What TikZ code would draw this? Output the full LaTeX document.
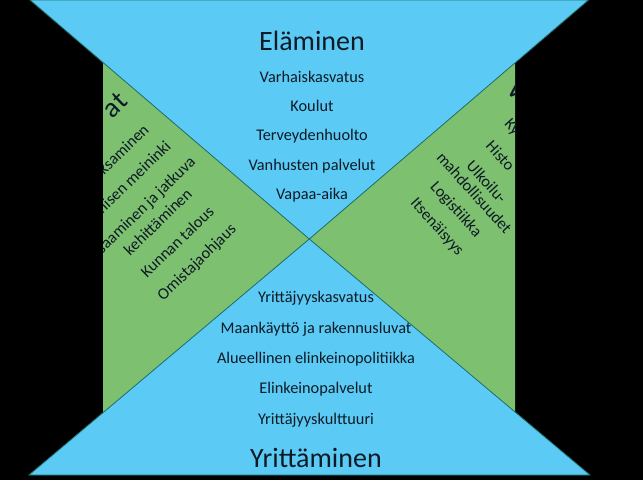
\documentclass[tikz,border=0pt]{standalone}
\usepackage{fontspec}
\setmainfont{Carlito}
\definecolor{skyfill}{HTML}{5BCBF5}
\definecolor{leaffill}{HTML}{7DC070}
\definecolor{edgeteal}{HTML}{1F6E68}
\definecolor{inktext}{HTML}{0E1A26}
\newcommand{\headfont}{\fontsize{28}{32}\selectfont}
\newcommand{\listfont}{\fontsize{16.3}{19}\selectfont}

\begin{document}
\begin{tikzpicture}[x=1pt,y=-1pt,
  tri/.style={draw=edgeteal,line width=0.8pt,fill=skyfill},
  head/.style={font=\headfont,text=inktext,inner sep=0pt},
  lbl/.style={font=\listfont,text=inktext,inner sep=0pt}]
  \fill[black] (0,0) rectangle (643,480);
  \useasboundingbox (0,0) rectangle (643,480);
  % green wedges
  \fill[leaffill] (103,62.5) -- (309.3,239) -- (103,412.7) -- cycle;
  \fill[leaffill] (515,62.9) -- (309.3,239) -- (515,412.7) -- cycle;
  % blue triangles
  \filldraw[tri] (30,0) -- (588.5,0) -- (309.3,239) -- cycle;
  \filldraw[tri] (29,475) -- (590,475) -- (309.3,239) -- cycle;
  % top list
  \node[head,anchor=base] (elam) at (312,50) {Eläminen};
  \foreach \t [count=\i] in {Varhaiskasvatus,Koulut,Terveydenhuolto,
      Vanhusten palvelut,Vapaa-aika}
    \node[lbl,anchor=base] (top\i) at (312,{82.3+29.3*(\i-1)}) {\t};
  % bottom list
  \foreach \t [count=\i] in {Yrittäjyyskasvatus,Maankäyttö ja rakennusluvat,
      Alueellinen elinkeinopolitiikka,Elinkeinopalvelut,Yrittäjyyskulttuuri}
    \node[lbl,anchor=base] (bot\i) at (316,{302.8+30.3*(\i-1)}) {\t};
  \node[head,anchor=base] (yrit) at (316,467.3) {Yrittäminen};
  % rotated side texts, cut at the black edges
  \begin{scope}
    \clip (103,0) rectangle (515,480);
    \node[head,rotate=44,anchor=east] (ltitle) at (123,97) {at};
    \node[lbl,rotate=44,anchor=east] (l1) at (146,127) {ksaminen};
    \node[lbl,rotate=44,anchor=east] (l2) at (168,143.5) {nisen meininki};
    \node[lbl,rotate=44,anchor=east] (l3) at (193.5,160) {saaminen ja jatkuva};
    \node[lbl,rotate=44] (l4) at (157.7,221.7) {kehittäminen};
    \node[lbl,rotate=44] (l5) at (177.1,241.8) {Kunnan talous};
    \node[lbl,rotate=44] (l6) at (197.3,262.7) {Omistajaohjaus};
    \node[head,rotate=-48,anchor=west] (rtitle) at (512,84) {V};
    \node[lbl,rotate=-48,anchor=west] (r1) at (506.7,121.7) {Ky};
    \node[lbl,rotate=-48,anchor=west] (r2) at (489,143) {Histo};
    \node[lbl,rotate=-48] (r3) at (486.8,181.9) {Ulkoilu-};
    \node[lbl,rotate=-48] (r4) at (474.5,192.9) {mahdollisuudet};
    \node[lbl,rotate=-48] (r5) at (455.7,209.9) {Logistiikka};
    \node[lbl,rotate=-48] (r6) at (436.8,226.9) {Itsenäisyys};
  \end{scope}
\end{tikzpicture}
\end{document}
